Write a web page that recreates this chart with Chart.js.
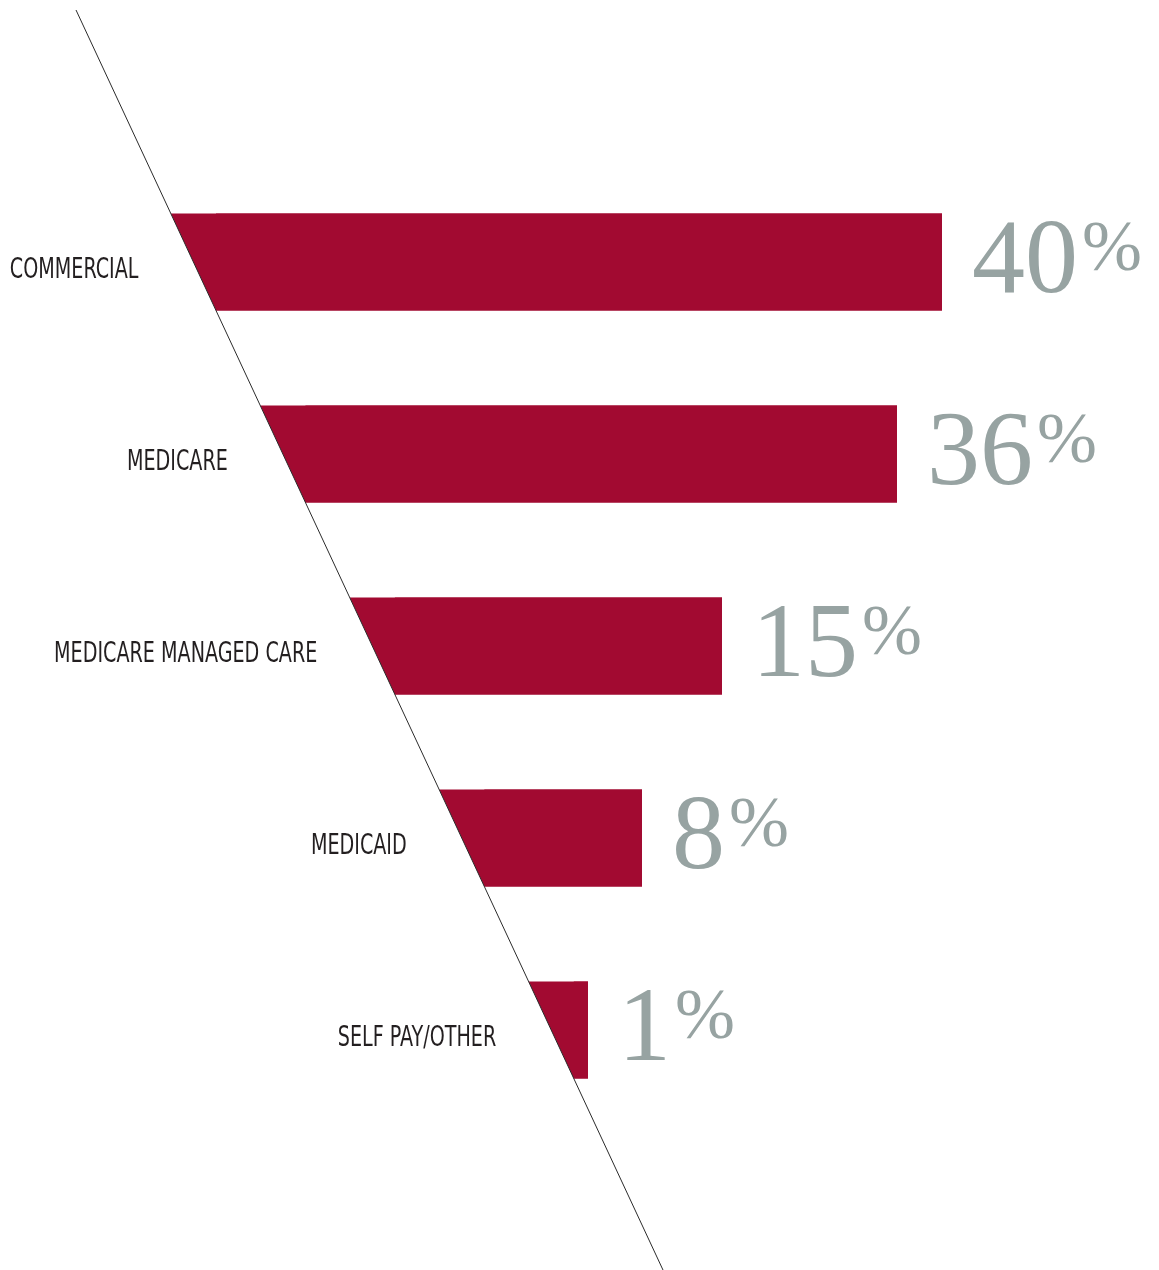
<!DOCTYPE html>
<html>
<head>
<meta charset="utf-8">
<script src="https://cdn.jsdelivr.net/npm/chart.js@4.4.1/dist/chart.umd.min.js"></script>
<style>
  html, body { margin: 0; padding: 0; background: #fff; }
  #wrap { width: 1159px; height: 1270px; position: relative; }
</style>
</head>
<body>
<div id="wrap"><canvas id="payer"></canvas></div>
<script>
// payer mix
const categories = ['COMMERCIAL', 'MEDICARE', 'MEDICARE MANAGED CARE', 'MEDICAID', 'SELF PAY/OTHER'];
const shares = [40, 36, 15, 8, 1];
// how far each bar reaches on the x axis (read off the picture, not to scale with shares)
const barReach = [942, 897, 722, 642, 588];
// the slanted guide line: x at its two ends, y as category index
const diagonalX = [76, 663];
const diagonalIdx = [-1.3125, 5.25];

const RED = '#a20a31';
const GREY = '#97a3a2';
const BAR_PCT = 0.505;

// x of the diagonal (data units) at a fractional category index
function diagAt(idx) {
  const t = (idx - diagonalIdx[0]) / (diagonalIdx[1] - diagonalIdx[0]);
  return diagonalX[0] + t * (diagonalX[1] - diagonalX[0]);
}

const barData = barReach.map((end, i) => [diagAt(i + BAR_PCT / 2), end]);

const slantPlugin = {
  id: 'slant',
  afterDatasetsDraw(chart) {
    const ctx = chart.ctx;
    const xs = chart.scales.x, ys = chart.scales.y;
    const p0 = {x: xs.getPixelForValue(diagonalX[0]), y: ys.getPixelForValue(diagonalIdx[0])};
    const p1 = {x: xs.getPixelForValue(diagonalX[1]), y: ys.getPixelForValue(diagonalIdx[1])};
    const lineX = y => p0.x + (y - p0.y) / (p1.y - p0.y) * (p1.x - p0.x);

    const meta = chart.getDatasetMeta(0);
    ctx.save();
    meta.data.forEach((el, i) => {
      const top = el.y - el.height / 2;
      const bottom = el.y + el.height / 2;
      ctx.fillStyle = RED;
      ctx.beginPath();
      ctx.moveTo(lineX(top), top);
      ctx.lineTo(el.x, top);
      ctx.lineTo(el.x, bottom);
      ctx.lineTo(lineX(bottom), bottom);
      ctx.closePath();
      ctx.fill();

      // category label, right aligned against the diagonal
      ctx.save();
      ctx.fillStyle = '#231f20';
      ctx.font = '28px "Liberation Sans Narrow", "DejaVu Sans Condensed", sans-serif';
      ctx.textBaseline = 'alphabetic';
      ctx.textAlign = 'right';
      const rx = lineX(el.y) - 55;
      ctx.translate(rx, el.y + 16);
      ctx.scale(0.76, 1);
      ctx.fillText(categories[i], 0, 0);
      ctx.restore();

      // value label
      ctx.fillStyle = GREY;
      ctx.textAlign = 'left';
      ctx.font = '106px "Liberation Serif", serif';
      const num = String(shares[i]);
      const vx = el.x + 30;
      ctx.fillText(num, vx, el.y + 30);
      const w = ctx.measureText(num).width;
      ctx.font = '72px "Liberation Serif", serif';
      ctx.fillText('%', vx + w + 4, el.y + 8);
    });

    ctx.strokeStyle = '#2b2b2b';
    ctx.lineWidth = 1;
    ctx.beginPath();
    ctx.moveTo(p0.x, p0.y);
    ctx.lineTo(p1.x, p1.y);
    ctx.stroke();
    ctx.restore();
  }
};

new Chart(document.getElementById('payer'), {
  type: 'bar',
  data: {
    labels: categories,
    datasets: [{
      data: barData,
      backgroundColor: RED,
      borderWidth: 0,
      barPercentage: BAR_PCT,
      categoryPercentage: 1,
    }],
  },
  options: {
    indexAxis: 'y',
    responsive: true,
    maintainAspectRatio: false,
    animation: false,
    layout: {padding: {top: 166, bottom: 144, left: 0, right: 0}},
    scales: {
      x: {type: 'linear', min: 0, max: 1159, display: false},
      y: {display: false, offset: true},
    },
    plugins: {legend: {display: false}, tooltip: {enabled: false}},
  },
  plugins: [slantPlugin],
});
</script>
</body>
</html>
